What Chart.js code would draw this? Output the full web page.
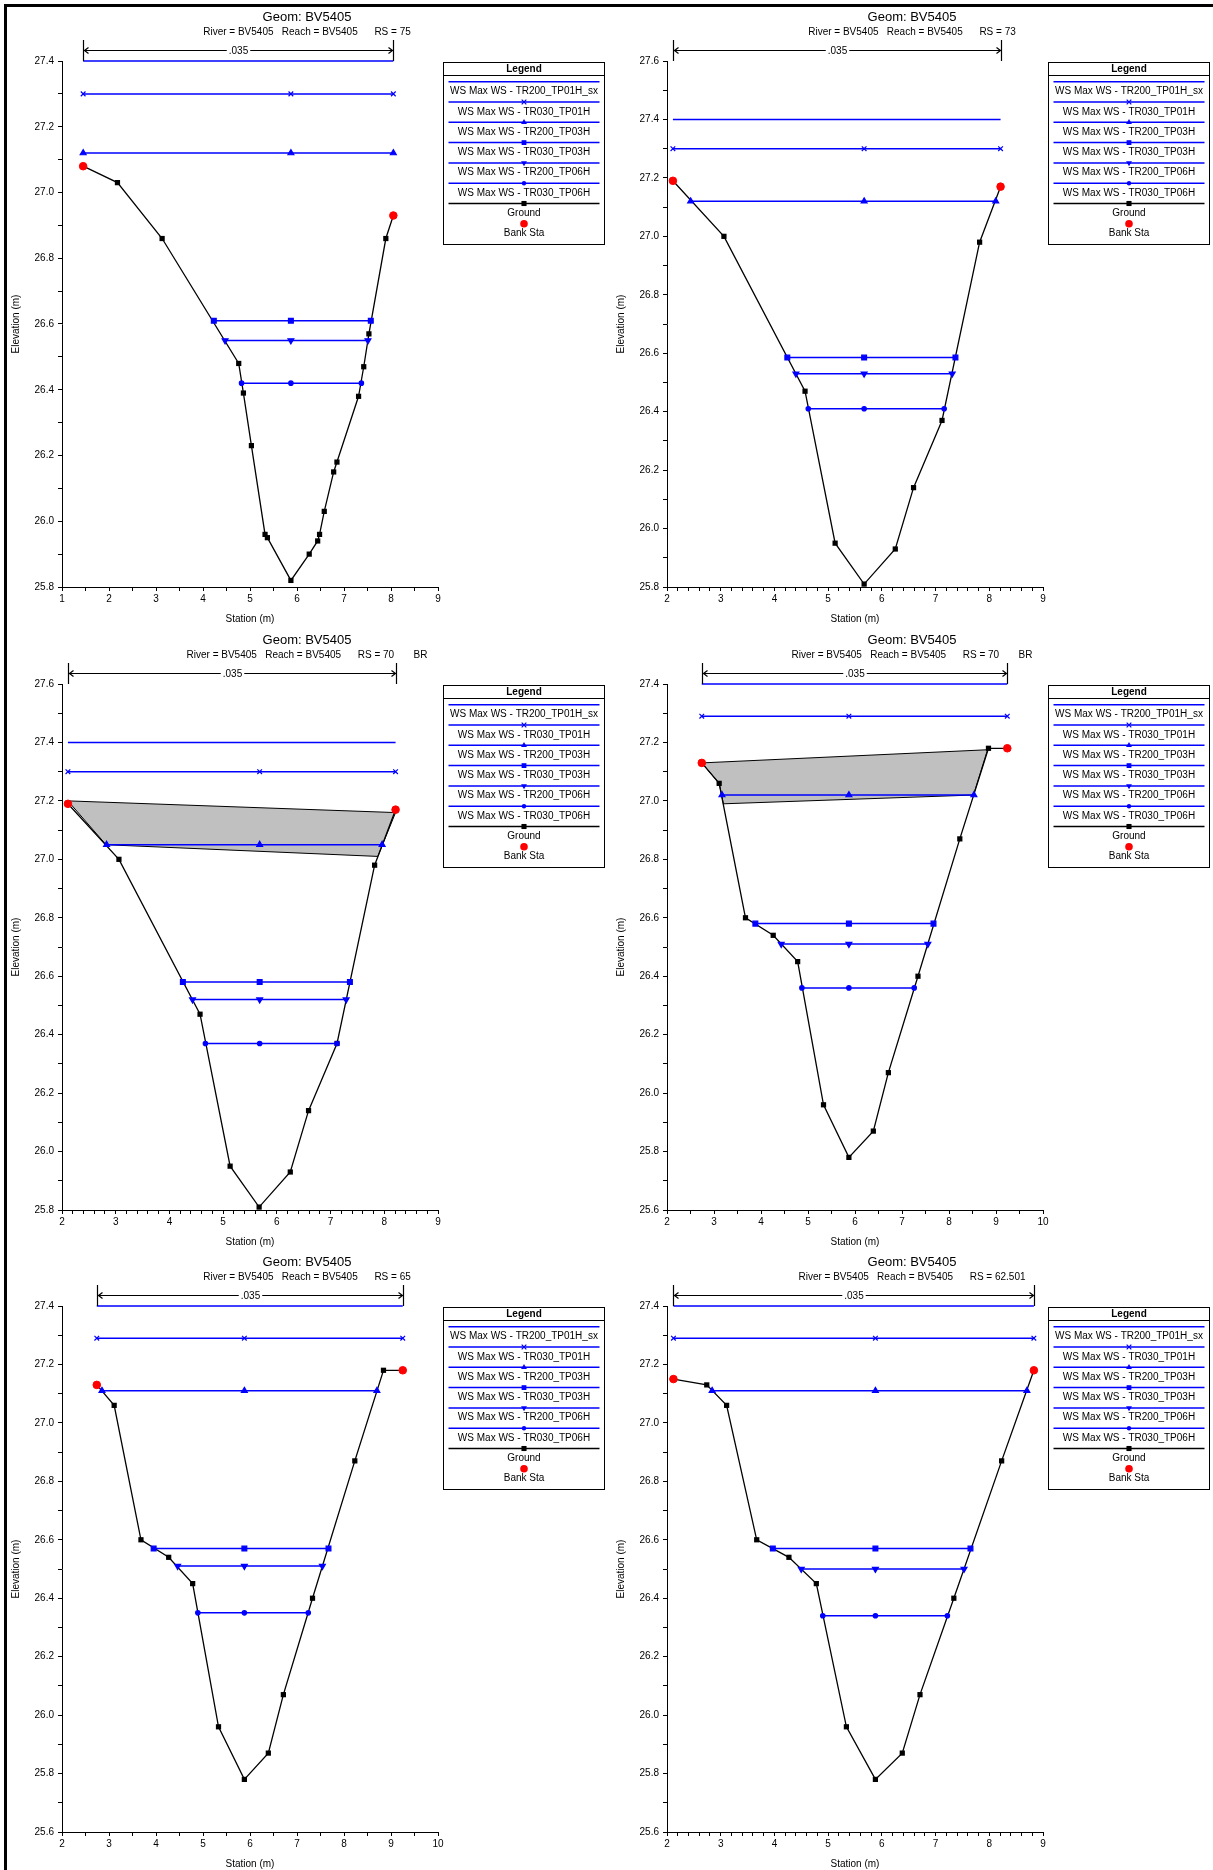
<!DOCTYPE html>
<html>
<head>
<meta charset="utf-8">
<script src="https://cdn.jsdelivr.net/npm/chart.js@4.4.1/dist/chart.umd.min.js"></script>
<style>
  html, body { margin: 0; padding: 0; background: #fff; }
  body { width: 1213px; height: 1870px; position: relative; overflow: hidden; }
  .frame { position: absolute; left: 4px; top: 4px; width: 1220px; height: 1880px;
           border-left: 3px solid #000; border-top: 3px solid #000; }
  .panel { position: absolute; width: 607px; height: 640px; }
</style>
</head>
<body>
<div class="frame"></div>
<canvas id="c1" class="panel" width="607" height="640" style="left:0px;top:0px"></canvas>
<canvas id="c2" class="panel" width="607" height="640" style="left:605px;top:0px"></canvas>
<canvas id="c3" class="panel" width="607" height="640" style="left:0px;top:623px"></canvas>
<canvas id="c4" class="panel" width="607" height="640" style="left:605px;top:623px"></canvas>
<canvas id="c5" class="panel" width="607" height="640" style="left:0px;top:1245px"></canvas>
<canvas id="c6" class="panel" width="607" height="640" style="left:605px;top:1245px"></canvas>
<script>

// RS = 75
const rs75Station = [1.45, 2.18, 3.13, 4.76, 4.86, 5.03, 5.32, 5.37, 5.87, 6.26, 6.44, 6.48, 6.58, 6.78, 6.85, 7.31, 7.42, 7.53, 7.89, 8.05];
const rs75Elev    = [27.08, 27.03, 26.86, 26.48, 26.39, 26.23, 25.96, 25.95, 25.82, 25.90, 25.94, 25.96, 26.03, 26.15, 26.18, 26.38, 26.47, 26.57, 26.86, 26.93];
const rs75BankSta  = [1.45, 8.05];
const rs75BankElev = [27.08, 26.93];
const rs75Ws      = [27.40, 27.30, 27.12, 26.61, 26.55, 26.42];
const rs75WsLeft  = [1.45, 1.45, 1.45, 4.23, 4.47, 4.82];
const rs75WsRight = [8.05, 8.05, 8.05, 7.57, 7.51, 7.37];
const rs75WsMid = 5.87;

// RS = 73
const rs73Station = [2.11, 3.06, 4.57, 5.13, 5.67, 6.25, 6.59, 7.12, 7.82, 8.21];
const rs73Elev    = [27.19, 27.00, 26.47, 25.95, 25.81, 25.93, 26.14, 26.37, 26.98, 27.17];
const rs73BankSta  = [2.11, 8.21];
const rs73BankElev = [27.19, 27.17];
const rs73Ws      = [27.40, 27.30, 27.12, 26.585, 26.53, 26.41];
const rs73WsLeft  = [2.11, 2.11, 2.44, 4.24, 4.40, 4.63];
const rs73WsRight = [8.21, 8.21, 8.12, 7.37, 7.31, 7.16];
const rs73WsMid = 5.67;

// RS = 70 BR (upstream face)
const rs70uStation = [2.11, 3.06, 4.57, 5.13, 5.67, 6.25, 6.59, 7.12, 7.82, 8.21];
const rs70uElev    = [27.19, 27.00, 26.47, 25.95, 25.81, 25.93, 26.14, 26.37, 26.98, 27.17];
const rs70uBankSta  = [2.11, 8.21];
const rs70uBankElev = [27.19, 27.17];
const rs70uWs      = [27.40, 27.30, 27.05, 26.58, 26.52, 26.37];
const rs70uWsLeft  = [2.11, 2.11, 2.83, 4.25, 4.43, 4.67];
const rs70uWsRight = [8.21, 8.21, 7.96, 7.36, 7.29, 7.12];
const rs70uWsMid = 5.68;
const rs70uDeckSta  = [2.11, 8.21, 7.88, 2.82, 2.11];
const rs70uDeckElev = [27.20, 27.16, 27.01, 27.05, 27.20];

// RS = 70 BR (downstream face)
const rs70dStation = [2.74, 3.11, 3.67, 4.26, 4.78, 5.33, 5.87, 6.39, 6.71, 7.34, 8.23, 8.84, 9.24];
const rs70dElev    = [27.13, 27.06, 26.60, 26.54, 26.45, 25.96, 25.78, 25.87, 26.07, 26.40, 26.87, 27.18, 27.18];
const rs70dBankSta  = [2.74, 9.24];
const rs70dBankElev = [27.13, 27.18];
const rs70dWs      = [27.40, 27.29, 27.02, 26.58, 26.51, 26.36];
const rs70dWsLeft  = [2.74, 2.74, 3.17, 3.88, 4.43, 4.87];
const rs70dWsRight = [9.24, 9.24, 8.53, 7.67, 7.55, 7.26];
const rs70dWsMid = 5.87;
const rs70dDeckSta  = [2.74, 8.82, 8.52, 3.20, 3.11, 2.74];
const rs70dDeckElev = [27.13, 27.175, 27.02, 26.99, 27.06, 27.13];

// RS = 65
const rs65Station = [2.74, 3.11, 3.68, 4.27, 4.78, 5.33, 5.88, 6.39, 6.71, 7.33, 8.23, 8.84, 9.25];
const rs65Elev    = [27.13, 27.06, 26.60, 26.54, 26.45, 25.96, 25.78, 25.87, 26.07, 26.40, 26.87, 27.18, 27.18];
const rs65BankSta  = [2.74, 9.25];
const rs65BankElev = [27.13, 27.18];
const rs65Ws      = [27.40, 27.29, 27.11, 26.57, 26.51, 26.35];
const rs65WsLeft  = [2.74, 2.74, 2.85, 3.95, 4.46, 4.89];
const rs65WsRight = [9.25, 9.25, 8.70, 7.67, 7.54, 7.24];
const rs65WsMid = 5.88;

// RS = 62.501
const rs62Station = [2.12, 2.74, 3.11, 3.67, 4.27, 4.78, 5.34, 5.88, 6.38, 6.71, 7.34, 8.23, 8.83];
const rs62Elev    = [27.15, 27.13, 27.06, 26.60, 26.54, 26.45, 25.96, 25.78, 25.87, 26.07, 26.40, 26.87, 27.18];
const rs62BankSta  = [2.12, 8.83];
const rs62BankElev = [27.15, 27.18];
const rs62Ws      = [27.40, 27.29, 27.11, 26.57, 26.50, 26.34];
const rs62WsLeft  = [2.12, 2.12, 2.84, 3.97, 4.50, 4.90];
const rs62WsRight = [8.83, 8.83, 8.70, 7.65, 7.53, 7.22];
const rs62WsMid = 5.88;

const wsNames = ['WS Max WS - TR200_TP01H_sx', 'WS Max WS - TR030_TP01H', 'WS Max WS - TR200_TP03H',
                 'WS Max WS - TR030_TP03H', 'WS Max WS - TR200_TP06H', 'WS Max WS - TR030_TP06H'];
const wsMarkers = [
  { style: false, r: 0, rot: 0 },
  { style: 'crossRot', r: 3.3, rot: 0 },
  { style: 'triangle', r: 3.4, rot: 0 },
  { style: 'rect', r: 3.4, rot: 0 },
  { style: 'triangle', r: 3.4, rot: 180 },
  { style: 'circle', r: 2.2, rot: 0 }
];

const FONT = '"Liberation Sans", Arial, Helvetica, sans-serif';
const BLUE = '#0000ff';
const RED = '#ff0000';

const panels = [
  { id: 'c1', sub: 'River = BV5405   Reach = BV5405      RS = 75', x: [1, 9, 0.5], y: [25.8, 27.4],
    sta: rs75Station, elev: rs75Elev, bankSta: rs75BankSta, bankElev: rs75BankElev,
    ws: rs75Ws, wsL: rs75WsLeft, wsR: rs75WsRight, wsMid: rs75WsMid },
  { id: 'c2', sub: 'River = BV5405   Reach = BV5405      RS = 73', x: [2, 9, 0.2], y: [25.8, 27.6],
    sta: rs73Station, elev: rs73Elev, bankSta: rs73BankSta, bankElev: rs73BankElev,
    ws: rs73Ws, wsL: rs73WsLeft, wsR: rs73WsRight, wsMid: rs73WsMid },
  { id: 'c3', sub: 'River = BV5405   Reach = BV5405      RS = 70       BR', x: [2, 9, 0.2], y: [25.8, 27.6],
    sta: rs70uStation, elev: rs70uElev, bankSta: rs70uBankSta, bankElev: rs70uBankElev,
    ws: rs70uWs, wsL: rs70uWsLeft, wsR: rs70uWsRight, wsMid: rs70uWsMid,
    deckSta: rs70uDeckSta, deckElev: rs70uDeckElev },
  { id: 'c4', sub: 'River = BV5405   Reach = BV5405      RS = 70       BR', x: [2, 10, 0.5], y: [25.6, 27.4],
    sta: rs70dStation, elev: rs70dElev, bankSta: rs70dBankSta, bankElev: rs70dBankElev,
    ws: rs70dWs, wsL: rs70dWsLeft, wsR: rs70dWsRight, wsMid: rs70dWsMid,
    deckSta: rs70dDeckSta, deckElev: rs70dDeckElev },
  { id: 'c5', sub: 'River = BV5405   Reach = BV5405      RS = 65', x: [2, 10, 0.5], y: [25.6, 27.4],
    sta: rs65Station, elev: rs65Elev, bankSta: rs65BankSta, bankElev: rs65BankElev,
    ws: rs65Ws, wsL: rs65WsLeft, wsR: rs65WsRight, wsMid: rs65WsMid },
  { id: 'c6', sub: 'River = BV5405   Reach = BV5405      RS = 62.501', x: [2, 9, 0.2], y: [25.6, 27.4],
    sta: rs62Station, elev: rs62Elev, bankSta: rs62BankSta, bankElev: rs62BankElev,
    ws: rs62Ws, wsL: rs62WsLeft, wsR: rs62WsRight, wsMid: rs62WsMid }
];

function tickList(min, max, step) {
  const n = Math.round((max - min) / step);
  const out = [];
  for (let i = 0; i <= n; i++) out.push({ value: +(min + i * step).toFixed(4) });
  return out;
}

// small marker painter for the legend box
function marker(ctx, style, x, y, r, color, rot) {
  ctx.save();
  ctx.fillStyle = color; ctx.strokeStyle = color; ctx.lineWidth = 1.2;
  ctx.beginPath();
  if (style === 'rect') {
    const s = r * Math.SQRT1_2;
    ctx.rect(x - s, y - s, 2 * s, 2 * s); ctx.fill();
  } else if (style === 'circle') {
    ctx.arc(x, y, r, 0, Math.PI * 2); ctx.fill();
  } else if (style === 'triangle') {
    const d = rot ? -1 : 1;
    ctx.moveTo(x, y - d * r);
    ctx.lineTo(x + r * 0.866, y + d * r * 0.5);
    ctx.lineTo(x - r * 0.866, y + d * r * 0.5);
    ctx.closePath(); ctx.fill();
  } else if (style === 'crossRot') {
    const s = r * 0.707;
    ctx.moveTo(x - s, y - s); ctx.lineTo(x + s, y + s);
    ctx.moveTo(x + s, y - s); ctx.lineTo(x - s, y + s);
    ctx.stroke();
  }
  ctx.restore();
}

function drawLegend(ctx) {
  const bx = 443.5, by = 62.5, bw = 161, bh = 182, cx = bx + bw / 2;
  ctx.save();
  ctx.fillStyle = '#fff';
  ctx.fillRect(bx, by, bw, bh);
  ctx.strokeStyle = '#000'; ctx.lineWidth = 1;
  ctx.strokeRect(bx, by, bw, bh);
  ctx.beginPath(); ctx.moveTo(bx, 75.5); ctx.lineTo(bx + bw, 75.5); ctx.stroke();
  ctx.fillStyle = '#000'; ctx.textAlign = 'center'; ctx.textBaseline = 'middle';
  ctx.font = 'bold 10px ' + FONT;
  ctx.fillText('Legend', cx, 69);
  ctx.font = '10px ' + FONT;
  for (let i = 0; i < 6; i++) {
    const ly = 81.7 + i * 20.3;
    ctx.strokeStyle = BLUE; ctx.lineWidth = 1.5;
    ctx.beginPath(); ctx.moveTo(bx + 5, ly); ctx.lineTo(bx + bw - 5, ly); ctx.stroke();
    if (wsMarkers[i].style) marker(ctx, wsMarkers[i].style, cx, ly, wsMarkers[i].r, BLUE, wsMarkers[i].rot);
    ctx.fillStyle = '#000';
    ctx.fillText(wsNames[i], cx, ly + 9.8);
  }
  const gy = 203.5;
  ctx.strokeStyle = '#000'; ctx.lineWidth = 1.5;
  ctx.beginPath(); ctx.moveTo(bx + 5, gy); ctx.lineTo(bx + bw - 5, gy); ctx.stroke();
  marker(ctx, 'rect', cx, gy, 3.6, '#000', 0);
  ctx.fillStyle = '#000';
  ctx.fillText('Ground', cx, gy + 9.8);
  marker(ctx, 'circle', cx, 223.7, 3.8, RED, 0);
  ctx.fillStyle = '#000';
  ctx.fillText('Bank Sta', cx, 233.5);
  ctx.restore();
}

function makeDecor(p) {
  return {
    id: 'decor_' + p.id,
    afterDraw(chart) {
      const ctx = chart.ctx, xs = chart.scales.x, top = chart.chartArea.top;
      ctx.save();
      ctx.fillStyle = '#000'; ctx.textAlign = 'center'; ctx.textBaseline = 'middle';
      ctx.font = '13px ' + FONT;
      ctx.fillText('Geom: BV5405', 307, top - 44);
      ctx.font = '10px ' + FONT;
      ctx.fillText(p.sub, 307, top - 29);

      // Manning's n span between the bank stations
      const xl = Math.round(xs.getPixelForValue(p.bankSta[0])) + 0.5;
      const xr = Math.round(xs.getPixelForValue(p.bankSta[p.bankSta.length - 1])) + 0.5;
      const y = top - 10.5, xm = (xl + xr) / 2;
      const label = '.035';
      const tw = ctx.measureText(label).width;
      ctx.strokeStyle = '#000'; ctx.lineWidth = 1.2;
      ctx.beginPath();
      ctx.moveTo(xl, top - 21); ctx.lineTo(xl, top);
      ctx.moveTo(xr, top - 21); ctx.lineTo(xr, top);
      ctx.moveTo(xl, y); ctx.lineTo(xm - tw / 2 - 2, y);
      ctx.moveTo(xm + tw / 2 + 2, y); ctx.lineTo(xr, y);
      ctx.moveTo(xl + 5, y - 3); ctx.lineTo(xl + 1, y); ctx.lineTo(xl + 5, y + 3);
      ctx.moveTo(xr - 5, y - 3); ctx.lineTo(xr - 1, y); ctx.lineTo(xr - 5, y + 3);
      ctx.stroke();
      ctx.fillText(label, xm, y + 0.5);
      ctx.restore();

      drawLegend(ctx);
    }
  };
}

function buildDatasets(p) {
  const sets = [];
  sets.push({
    label: 'Bank Sta',
    data: p.bankSta.map((x, i) => ({ x: x, y: p.bankElev[i] })),
    showLine: false, pointStyle: 'circle', pointRadius: 3.8,
    pointBackgroundColor: RED, pointBorderColor: RED, pointBorderWidth: 1
  });
  p.ws.forEach((lvl, i) => {
    const m = wsMarkers[i];
    const xsData = i === 0 ? [p.wsL[i], p.wsR[i]] : [p.wsL[i], p.wsMid, p.wsR[i]];
    sets.push({
      label: wsNames[i],
      data: xsData.map(x => ({ x: x, y: lvl })),
      showLine: true, borderColor: BLUE, borderWidth: 1.5,
      pointStyle: m.style || 'circle', pointRadius: m.r, pointRotation: m.rot,
      pointBackgroundColor: BLUE, pointBorderColor: BLUE, pointBorderWidth: 1.2
    });
  });
  sets.push({
    label: 'Ground',
    data: p.sta.map((x, i) => ({ x: x, y: p.elev[i] })),
    showLine: true, borderColor: '#000', borderWidth: 1.3,
    pointStyle: 'rect', pointRadius: 3.7,
    pointBackgroundColor: '#000', pointBorderColor: '#000', pointBorderWidth: 0
  });
  if (p.deckSta) {
    sets.push({
      label: 'Deck',
      data: p.deckSta.map((x, i) => ({ x: x, y: p.deckElev[i] })),
      showLine: true, fill: 'shape', backgroundColor: '#c0c0c0',
      borderColor: '#000', borderWidth: 1, pointRadius: 0
    });
  }
  return sets;
}

function axis(min, max, step, isX) {
  return {
    type: 'linear', min: min, max: max,
    afterBuildTicks: s => { s.ticks = tickList(min, max, step); },
    afterFit: s => { if (isX) s.height = 45; else s.width = 62; },
    ticks: {
      autoSkip: false, maxRotation: 0, minRotation: 0,
      padding: isX ? 2 : 4, color: '#000',
      font: { family: FONT, size: 10 },
      callback: v => {
        if (isX) return Math.abs(v - Math.round(v)) < 1e-6 ? String(Math.round(v)) : '';
        return Math.abs(v * 5 - Math.round(v * 5)) < 1e-6 ? v.toFixed(1) : '';
      }
    },
    grid: { drawOnChartArea: false, drawTicks: true, tickLength: 4, tickColor: '#000', tickWidth: 1 },
    border: { display: true, color: '#000', width: 1 },
    title: {
      display: true, text: isX ? 'Station (m)' : 'Elevation (m)', color: '#000',
      font: { family: FONT, size: 10 },
      padding: isX ? { top: 4, bottom: 7 } : { top: 10, bottom: 4 }
    }
  };
}

panels.forEach(p => {
  new Chart(document.getElementById(p.id), {
    type: 'scatter',
    data: { datasets: buildDatasets(p) },
    options: {
      responsive: false, animation: false, events: [],
      layout: { padding: { left: 0, top: 61, right: 169, bottom: 8 } },
      elements: { line: { tension: 0 } },
      datasets: { scatter: { clip: 8 } },
      plugins: { legend: { display: false }, tooltip: { enabled: false } },
      scales: {
        x: axis(p.x[0], p.x[1], p.x[2], true),
        y: axis(p.y[0], p.y[1], 0.1, false)
      }
    },
    plugins: [makeDecor(p)]
  });
});
</script>
</body>
</html>
